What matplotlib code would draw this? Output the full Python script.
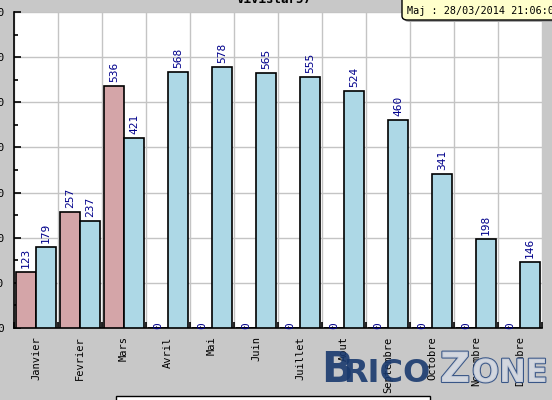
import matplotlib
matplotlib.use("Agg")
import matplotlib.pyplot as plt
import matplotlib.patches as mpatches
import matplotlib.patheffects as pe
import numpy as np

"""Chart data"""
months = ["Janvier", "Fevrier", "Mars", "Avril", "Mai", "Juin", "Juillet",
          "Aout", "Septembre", "Octobre", "Novembre", "Decembre"]
serie_rouge = [123, 257, 536, 0, 0, 0, 0, 0, 0, 0, 0, 0]
serie_bleue = [179, 237, 421, 568, 578, 565, 555, 524, 460, 341, 198, 146]
titre = "Vivistar57"
maj = "Maj : 28/03/2014 21:06:09"

"""Style"""
GRIS = "#c8c8c8"
ROUGE = "#d4a5a8"
BLEU = "#add8e6"
NAVY = "#00008b"
MONO = "DejaVu Sans Mono"

fig = plt.figure(figsize=(5.52, 4.0), dpi=100, facecolor=GRIS)
ax = fig.add_axes([14/552, 72/400, 528/552, 316/400])
ax.set_facecolor("white")

x = np.arange(len(months))
w = 20/44
ax.bar(x - w/2, serie_rouge, w, color=ROUGE, edgecolor="black", linewidth=1.2, zorder=3)
ax.bar(x + w/2, serie_bleue, w, color=BLEU, edgecolor="black", linewidth=1.2, zorder=3)

for xi, v in zip(x - w/2, serie_rouge):
    ax.text(xi, v + (9 if v else 6), str(v), rotation=90, ha="center",
            va="bottom" if v else "center", fontsize=8, family=MONO, color=NAVY)
for xi, v in zip(x + w/2, serie_bleue):
    ax.text(xi, v + 9, str(v), rotation=90, ha="center", va="bottom",
            fontsize=8, family=MONO, color=NAVY)

ax.set_xlim(-0.5, len(months) - 0.5)
ax.set_ylim(0, 700)
ax.set_yticks(np.arange(0, 701, 100))
ax.set_yticks(np.arange(50, 700, 100), minor=True)
ax.set_xticks(np.arange(-0.5, len(months)), labels=[])
ax.set_xticks(x, labels=months, minor=True)
ax.tick_params(axis="x", which="major", direction="in", length=4, width=1.2)
ax.tick_params(axis="x", which="minor", length=0, pad=6, labelrotation=90,
               labelsize=7.5)
ax.tick_params(axis="y", which="both", direction="in", width=1.2, pad=7,
               labelsize=8)
ax.tick_params(axis="y", which="major", length=5)
ax.tick_params(axis="y", which="minor", length=3)
for lab in ax.get_xticklabels(minor=True) + ax.get_yticklabels():
    lab.set_family(MONO)
ax.grid(True, which="major", color="#c4c4c4", linewidth=1, zorder=0)
ax.set_axisbelow(True)
for s in ["top", "right"]:
    ax.spines[s].set_visible(False)
for s in ["left", "bottom"]:
    ax.spines[s].set_linewidth(1.2)

"""Title (cut off at the top)"""
fig.text(274/552, 1 - 3/400, titre, ha="center", va="baseline", fontsize=9,
         family=MONO, fontweight="bold")

"""Tooltip"""
fig.patches.append(mpatches.FancyBboxPatch((404/552, 1 - 22/400), 0.3, 0.08,
                   boxstyle="round,pad=0,rounding_size=0.01", transform=fig.transFigure,
                   facecolor="#a8a8a8", edgecolor="none", zorder=4))
fig.patches.append(mpatches.FancyBboxPatch((402/552, 1 - 20/400), 0.3, 0.08,
                   boxstyle="round,pad=0,rounding_size=0.01", transform=fig.transFigure,
                   facecolor="#ffffcc", edgecolor="black", linewidth=1, zorder=5))
fig.text(407/552, 1 - 14/400, maj, ha="left", va="baseline", fontsize=7.3,
         family=MONO, zorder=6)

"""Legend box (cut off at the bottom)"""
fig.patches.append(mpatches.Rectangle((116/552, -0.02), 314/552, 0.03,
                   transform=fig.transFigure, facecolor="white",
                   edgecolor="black", linewidth=1, zorder=5))

"""Watermark"""
wm = dict(va="baseline", ha="left", fontweight="bold", zorder=7, alpha=0.9)
fig.text(321/552, 1 - 382/400, "B", fontsize=30, color="#1a3a6e", **wm)
fig.text(343/552, 1 - 382/400, "RICO", fontsize=23, color="#1a3a6e", **wm)
outline = [pe.Stroke(linewidth=1.5, foreground="#2a4a80"), pe.Normal()]
fig.text(440/552, 1 - 382/400, "Z", fontsize=30, color="#d4d8e0",
         path_effects=outline, **wm)
fig.text(472/552, 1 - 382/400, "ONE", fontsize=23, color="#d4d8e0",
         path_effects=outline, **wm)

fig.savefig("out.png", dpi=100, facecolor=GRIS)
